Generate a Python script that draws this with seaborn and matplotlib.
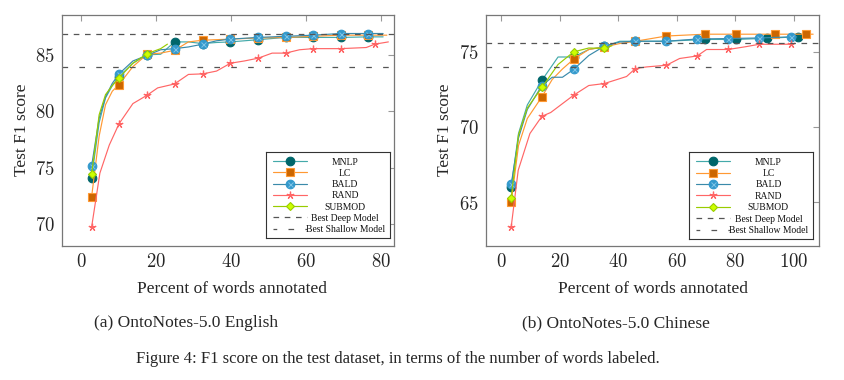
import matplotlib
matplotlib.use("Agg")
import matplotlib.pyplot as plt
import seaborn as sns
import numpy as np
from matplotlib.ticker import FixedLocator, FuncFormatter

# ---------------- data: (a) OntoNotes-5.0 English ----------------
en_mnlp_x = [2.8, 4.8, 6.5, 8.3, 10.1, 13.8, 17.6, 21.2, 24.9, 28.6, 32.4, 36.1, 39.8, 47.2, 54.5, 61.8, 69.2, 76.5, 80.5]
en_mnlp_y = [74.1, 79.0, 81.2, 82.3, 83.1, 84.3, 85.05, 85.1, 86.2, 86.2, 86.05, 86.15, 86.2, 86.4, 86.6, 86.6, 86.6, 86.65, 86.65]
en_mnlp_m = [2.8, 10.1, 17.6, 24.9, 32.4, 39.8, 47.2, 54.5, 61.8, 69.2, 76.5]

en_lc_x = [2.8, 4.8, 6.5, 8.3, 10.1, 13.8, 17.6, 21.2, 24.9, 28.6, 32.4, 39.8, 47.2, 54.5, 61.8, 69.2, 76.5, 81.5]
en_lc_y = [72.4, 77.8, 80.6, 81.8, 82.4, 84.0, 85.1, 85.2, 85.45, 86.2, 86.35, 86.45, 86.55, 86.6, 86.7, 86.8, 86.8, 86.8]
en_lc_m = [2.8, 10.1, 17.6, 24.9, 32.4, 39.8, 47.2, 54.5, 61.8, 69.2, 76.5]

en_bald_x = [2.8, 4.8, 6.5, 8.3, 10.1, 13.8, 17.6, 21.2, 24.9, 28.6, 32.4, 36.1, 39.8, 47.2, 54.5, 61.8, 69.2, 76.5, 80.5]
en_bald_y = [75.15, 79.4, 81.3, 82.5, 83.35, 84.5, 85.0, 85.5, 85.6, 85.75, 86.0, 86.3, 86.45, 86.6, 86.7, 86.8, 86.95, 86.95, 86.95]
en_bald_m = [2.8, 10.1, 17.6, 24.9, 32.4, 39.8, 47.2, 54.5, 61.8, 69.2, 76.5]

en_rand_x = [2.8, 5.0, 7.5, 10.1, 13.8, 17.6, 20.4, 24.9, 28.6, 32.4, 36.1, 39.8, 43.5, 47.2, 50.9, 54.5, 58.2, 61.8, 69.2, 76.0, 78.3, 81.9]
en_rand_y = [69.7, 74.5, 77.0, 78.9, 80.7, 81.45, 82.1, 82.45, 83.3, 83.35, 83.6, 84.3, 84.5, 84.75, 85.2, 85.2, 85.5, 85.6, 85.6, 85.7, 86.0, 86.2]
en_rand_m = [2.8, 10.1, 17.6, 24.9, 32.4, 39.8, 47.2, 54.5, 61.8, 69.2, 78.3]

en_sub_x = [2.8, 4.8, 6.5, 8.3, 10.1, 13.8, 17.6, 21.2, 23.0]
en_sub_y = [74.4, 79.7, 81.5, 82.3, 83.0, 84.3, 85.15, 85.6, 86.0]
en_sub_m = [2.8, 10.1, 17.6]

en_best_deep = 86.9
en_best_shallow = 84.0

# ---------------- data: (b) OntoNotes-5.0 Chinese ----------------
zh_mnlp_x = [3.5, 6.0, 9.0, 14.0, 19.5, 24.8, 30.0, 35.3, 40.6, 45.9, 56.5, 69.7, 80.2, 91.0, 101.6]
zh_mnlp_y = [66.0, 69.6, 71.5, 73.15, 74.7, 74.7, 75.2, 75.4, 75.75, 75.75, 75.75, 75.87, 75.87, 75.95, 76.05]
zh_mnlp_m = [3.5, 14.0, 24.8, 35.3, 45.9, 69.7, 80.2, 91.0, 101.6]

zh_lc_x = [3.5, 6.0, 9.0, 14.0, 17.5, 21.0, 24.8, 30.0, 35.3, 40.6, 45.9, 56.5, 69.7, 80.2, 93.5, 104.3, 106.6]
zh_lc_y = [65.0, 68.8, 70.6, 72.05, 73.2, 73.9, 74.55, 75.2, 75.37, 75.6, 75.75, 76.1, 76.22, 76.22, 76.22, 76.22, 76.22]
zh_lc_m = [3.5, 14.0, 24.8, 35.3, 45.9, 56.5, 69.7, 80.2, 93.5, 104.3]

zh_bald_x = [3.5, 6.0, 9.0, 14.0, 17.5, 21.0, 24.8, 30.0, 35.3, 40.6, 45.9, 56.5, 67.0, 77.6, 88.2, 98.9, 101.0]
zh_bald_y = [66.2, 69.3, 71.2, 72.8, 73.35, 73.35, 73.87, 74.8, 75.42, 75.7, 75.75, 75.75, 75.9, 75.93, 75.97, 76.04, 76.04]
zh_bald_m = [3.5, 14.0, 24.8, 35.3, 45.9, 56.5, 67.0, 77.6, 88.2, 98.9]

zh_rand_x = [3.5, 5.9, 9.9, 14.0, 17.0, 24.8, 30.0, 35.3, 42.9, 45.9, 49.8, 56.5, 61.0, 67.0, 70.2, 77.6, 84.0, 88.2, 98.9]
zh_rand_y = [63.37, 67.15, 69.6, 70.75, 71.0, 72.15, 72.8, 72.93, 73.4, 73.93, 74.04, 74.15, 74.6, 74.77, 75.2, 75.2, 75.4, 75.55, 75.55]
zh_rand_m = [3.5, 14.0, 24.8, 35.3, 45.9, 56.5, 67.0, 77.6, 88.2, 98.9]

zh_sub_x = [3.5, 6.0, 9.0, 14.0, 19.5, 24.8, 30.0, 35.3, 37.9]
zh_sub_y = [65.3, 69.5, 71.3, 72.67, 74.2, 75.04, 75.3, 75.27, 75.45]
zh_sub_m = [3.5, 14.0, 24.8, 35.3]

zh_best_deep = 75.65
zh_best_shallow = 74.0

en_xticks = [0, 20, 40, 60, 80]
en_yticks = [70, 75, 80, 85]
zh_xticks = [0, 20, 40, 60, 80, 100]
zh_yticks = [65, 70, 75]

xlabel = "Percent of words annotated"
ylabel = "Test F1 score"
caption_a = "(a) OntoNotes-5.0 English"
caption_b = "(b) OntoNotes-5.0 Chinese"
fig_caption = "Figure 4: F1 score on the test dataset, in terms of the number of words labeled."
names = ["MNLP", "LC", "BALD", "RAND", "SUBMOD"]
deep_label = "Best Deep Model"
shallow_label = "Best Shallow Model"

# ---------------- style ----------------
sns.set_theme(style="white")
plt.rcParams["font.family"] = ["Liberation Serif", "DejaVu Serif"]
plt.rcParams["mathtext.fontset"] = "cm"

styles = {
    "MNLP":   dict(color="#44aaaa", marker="o", mfc="#00666a", mec="#00666a", ms=6.2),
    "LC":     dict(color="#ff9933", marker="s", mfc="#cc6600", mec="#ff9933", ms=5.6),
    "BALD":   dict(color="#3a8aaa", marker="o", mfc="#3399cc", mec="#3399cc", ms=6.2),
    "RAND":   dict(color="#ff6666", marker=(5, 2, 0), mfc="#ff6666", mec="#ff6666", ms=5.5),
    "SUBMOD": dict(color="#99cc00", marker="D", mfc="#ccff00", mec="#99cc00", ms=4.2),
}
dash_deep = (0, (4.5, 4.5))
dash_shallow = (0, (4.5, 9))
dash_color = "#555555"

fig = plt.figure(figsize=(8.45, 3.8), dpi=100)
ax1 = fig.add_axes([62 / 845, 134 / 380, 332 / 845, 231 / 380])
ax2 = fig.add_axes([486 / 845, 134 / 380, 333 / 845, 231 / 380])


def plot_series(ax, name, xs, ys, mk, lw=0.85):
    st = styles[name]
    sns.lineplot(x=xs, y=ys, ax=ax, estimator=None, sort=False,
                 color=st["color"], lw=lw, marker=st["marker"],
                 markerfacecolor=st["mfc"], markeredgecolor=st["mec"],
                 markersize=st["ms"], markeredgewidth=0.8 if name != "RAND" else 0.9,
                 markevery=mk, legend=False)
    if name == "BALD":
        # crossed circle look
        xm = [xs[i] for i in mk]
        ym = [ys[i] for i in mk]
        ax.plot(xm, ym, ls="none", marker="x", ms=3.6, mew=0.7, color="#7fc4e6")


def draw_legend(ax, box):
    lg = ax.inset_axes(box)
    lg.set_xlim(0, 1)
    lg.set_ylim(0, 1)
    lg.set_xticks([])
    lg.set_yticks([])
    lg.set_facecolor("white")
    for sp in lg.spines.values():
        sp.set_color("#333333")
        sp.set_linewidth(0.8)
    top, step = 0.895, 0.131
    hx0, hx1, hm = 0.055, 0.33, 0.195
    tx = 0.64
    kw = dict(ha="center", va="center_baseline", fontsize=6.9, color="#111111")
    for i, name in enumerate(names):
        y = top - i * step
        plot_series(lg, name, [hx0, hm, hx1], [y, y, y], [1], lw=0.85)
        lg.text(tx, y, name, **kw)
    y = top - 5 * step
    lg.plot([hx0, hx1], [y, y], color=dash_color, lw=0.9, ls=dash_deep)
    lg.text(tx, y, deep_label, **kw)
    y = top - 6 * step
    lg.plot([hx0, hx1], [y, y], color=dash_color, lw=0.9, ls=(1.5, (4.5, 9)))
    lg.text(tx, y, shallow_label, **kw)
    lg.set_zorder(10)


def draw(ax, series, deep, shallow, xlim, ylim, xticks, yticks, legbox):
    for name, (xs, ys, ms) in zip(names, series):
        mk = [i for i, v in enumerate(xs) if v in ms]
        plot_series(ax, name, xs, ys, mk)
    ax.axhline(deep, color=dash_color, lw=0.9, ls=dash_deep)
    ax.axhline(shallow, color=dash_color, lw=0.9, ls=dash_shallow)
    ax.set_xlim(*xlim)
    ax.set_ylim(*ylim)
    ax.xaxis.set_major_locator(FixedLocator(xticks))
    ax.yaxis.set_major_locator(FixedLocator(yticks))
    fmt = FuncFormatter(lambda v, p: r"$%d$" % round(v))
    ax.xaxis.set_major_formatter(fmt)
    ax.yaxis.set_major_formatter(fmt)
    ax.tick_params(direction="in", top=True, right=True, length=4.5, width=0.8,
                   color="#999999", labelsize=13.5, pad=5)
    for sp in ax.spines.values():
        sp.set_color("#777777")
        sp.set_linewidth(0.9)
    ax.set_xlabel("")
    ax.set_ylabel("")
    draw_legend(ax, legbox)


draw(ax1,
     [(en_mnlp_x, en_mnlp_y, en_mnlp_m), (en_lc_x, en_lc_y, en_lc_m),
      (en_bald_x, en_bald_y, en_bald_m), (en_rand_x, en_rand_y, en_rand_m),
      (en_sub_x, en_sub_y, en_sub_m)],
     en_best_deep, en_best_shallow, (-5.1, 83.4), (68.0, 88.6), en_xticks, en_yticks,
     [0.614, 0.035, 0.373, 0.372])

draw(ax2,
     [(zh_mnlp_x, zh_mnlp_y, zh_mnlp_m), (zh_lc_x, zh_lc_y, zh_lc_m),
      (zh_bald_x, zh_bald_y, zh_bald_m), (zh_rand_x, zh_rand_y, zh_rand_m),
      (zh_sub_x, zh_sub_y, zh_sub_m)],
     zh_best_deep, zh_best_shallow, (-5.1, 108.6), (62.1, 77.5), zh_xticks, zh_yticks,
     [0.61, 0.03, 0.372, 0.377])

# axis labels and captions as figure text
fig.text(22 / 845, 1 - 130 / 380, ylabel, rotation=90, ha="center", va="center", fontsize=12.5)
fig.text(445 / 845, 1 - 130 / 380, ylabel, rotation=90, ha="center", va="center", fontsize=12.5)
fig.text(232 / 845, 1 - 289 / 380, xlabel, ha="center", va="center", fontsize=12.5)
fig.text(653 / 845, 1 - 289 / 380, xlabel, ha="center", va="center", fontsize=12.5)
fig.text(186 / 845, 1 - 323 / 380, caption_a, ha="center", va="center", fontsize=12.5)
fig.text(616 / 845, 1 - 323 / 380, caption_b, ha="center", va="center", fontsize=12.5)
fig.text(398 / 845, 1 - 359 / 380, fig_caption, ha="center", va="center", fontsize=12)

fig.savefig("out.png", dpi=100)
